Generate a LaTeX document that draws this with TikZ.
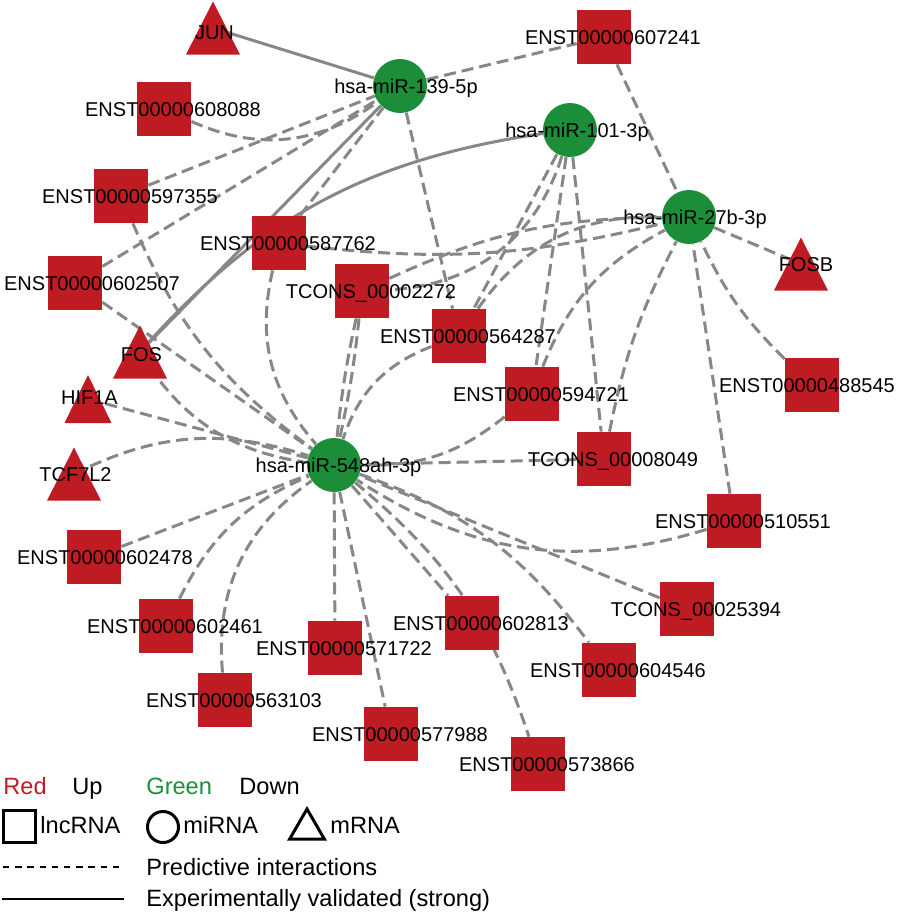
\documentclass[tikz,border=0pt]{standalone}
\usepackage{fontspec}
\setmainfont{Liberation Sans}
\definecolor{upred}{RGB}{190, 28, 34}
\definecolor{downgreen}{RGB}{28, 142, 58}
\definecolor{edgegray}{RGB}{135, 135, 135}
\usetikzlibrary{backgrounds, shapes.geometric}

\tikzset{
  lnc/.style={rectangle, fill=upred, minimum size=27pt, inner sep=0pt},
  mir/.style={circle, fill=downgreen, minimum size=27pt, inner sep=0pt},
  mrna/.style={rectangle, minimum width=27pt, minimum height=26.5pt, inner sep=0pt,
    path picture={\fill[upred] (path picture bounding box.south west)
      -- (path picture bounding box.south east) -- (path picture bounding box.north) -- cycle;}},
  nlbl/.style={font=\fontsize{10}{12}\selectfont, text height=7.2pt, text depth=0pt, inner sep=0pt},
  lnclbl/.style={nlbl, xshift=4.5pt},
  mirlbl/.style={nlbl, xshift=3pt},
  mrnalbl/.style={nlbl, xshift=0.75pt},
  pred/.style={draw=edgegray, line width=1.5pt, dash pattern=on 6pt off 3pt},
  valid/.style={draw=edgegray, line width=1.5pt},
  leg/.style={font=\fontsize{11.8}{14}\selectfont, text height=8.5pt, text depth=0pt, inner sep=0pt, anchor=west}
}

\begin{document}
\begin{tikzpicture}[x=0.5pt, y=-0.5pt]
  \useasboundingbox (0,0) rectangle (896,912);

  % miRNAs
  \node[mir, label={[mirlbl]center:hsa-miR-139-5p}] (m139) at (400,86) {};
  \node[mir, label={[mirlbl, xshift=0.5pt]center:hsa-miR-101-3p}] (m101) at (570,130) {};
  \node[mir, label={[mirlbl]center:hsa-miR-27b-3p}] (m27b) at (689,217) {};
  \node[mir, label={[mirlbl, xshift=-0.75pt]center:hsa-miR-548ah-3p}] (m548) at (334,465) {};

  % mRNAs
  \node[mrna, label={[mrnalbl, yshift=-2pt]center:JUN}] (jun) at (213,28) {};
  \node[mrna, label={[mrnalbl, xshift=1.75pt]center:FOSB}] (fosb) at (801,264) {};
  \node[mrna, label={[mrnalbl, yshift=-1pt]center:FOS}] (fos) at (140,352) {};
  \node[mrna, minimum width=23.5pt, minimum height=24pt, label={[mrnalbl, yshift=1pt]center:HIF1A}] (hif1a) at (88,399) {};
  \node[mrna, label={[mrnalbl]center:TCF7L2}] (tcf) at (74,474) {};

  % lncRNAs, upper part
  \node[lnc, label={[lnclbl]center:ENST00000607241}] (e607241) at (604,37) {};
  \node[lnc, label={[lnclbl]center:ENST00000608088}] (e608088) at (164,109) {};
  \node[lnc, label={[lnclbl]center:ENST00000597355}] (e597355) at (121,196) {};
  \node[lnc, label={[lnclbl]center:ENST00000587762}] (e587762) at (279,243) {};
  \node[lnc, label={[lnclbl, xshift=4pt]center:ENST00000602507}] (e602507) at (75,283) {};
  \node[lnc, label={[lnclbl]center:TCONS\_00002272}] (t2272) at (362,291) {};
  \node[lnc, label={[lnclbl]center:ENST00000564287}] (e564287) at (459,336) {};
  \node[lnc, label={[lnclbl, xshift=-7pt]center:ENST00000488545}] (e488545) at (812,385) {};
  \node[lnc, label={[lnclbl]center:ENST00000594721}] (e594721) at (532,394) {};
  \node[lnc, label={[lnclbl]center:TCONS\_00008049}] (t8049) at (604,459) {};
  \node[lnc, label={[lnclbl]center:ENST00000510551}] (e510551) at (734,521) {};

  % lncRNAs, lower part
  \node[lnc, label={[lnclbl, xshift=1pt]center:ENST00000602478}] (e602478) at (94,557) {};
  \node[lnc, label={[lnclbl]center:TCONS\_00025394}] (t25394) at (687,609) {};
  \node[lnc, label={[lnclbl]center:ENST00000602813}] (e602813) at (472,623) {};
  \node[lnc, label={[lnclbl]center:ENST00000602461}] (e602461) at (166,626) {};
  \node[lnc, label={[lnclbl]center:ENST00000571722}] (e571722) at (335,648) {};
  \node[lnc, label={[lnclbl]center:ENST00000604546}] (e604546) at (609,670) {};
  \node[lnc, label={[lnclbl]center:ENST00000563103}] (e563103) at (225,700) {};
  \node[lnc, label={[lnclbl]center:ENST00000577988}] (e577988) at (391,734) {};
  \node[lnc, label={[lnclbl]center:ENST00000573866}] (e573866) at (538,764) {};

  \begin{scope}[on background layer]
    % hsa-miR-139-5p
    \draw[valid] (jun.center) -- (m139);
    \draw[pred] (m139) -- (e607241);
    \draw[pred] (e608088) to[bend right=30] (m139);
    \draw[pred] (e597355) -- (m139);
    \draw[pred] (e602507) -- (m139);
    \draw[valid] (fos.center) -- (m139);
    \draw[pred] (e587762) -- (m139);
    \draw[pred] (m139) -- (e564287);

    % hsa-miR-101-3p
    \draw[valid] (m101) to[bend right=20] (fos.center);
    \draw[pred] (m101) to[bend left=35] (t2272);
    \draw[pred] (m101) -- (e564287);
    \draw[pred] (m101) -- (e594721);
    \draw[pred] (m101) -- (t8049);

    % hsa-miR-27b-3p
    \draw[pred] (e607241) -- (m27b);
    \draw[pred] (m27b) -- (fosb.center);
    \draw[pred] (e587762) to[bend right=10] (m27b);
    \draw[pred] (t2272) to[bend left=12] (m27b);
    \draw[pred] (e564287) to[bend left=28] (m27b);
    \draw[pred] (e594721) to[bend left=20] (m27b);
    \draw[pred] (t8049) to[bend left=8] (m27b);
    \draw[pred] (e488545) to[bend left=10] (m27b);
    \draw[pred] (e510551) -- (m27b);

    % hsa-miR-548ah-3p
    \draw[pred] (fos.center) to[bend right=25] (m548);
    \draw[pred] (hif1a.center) -- (m548);
    \draw[pred] (tcf.center) to[bend left=22] (m548);
    \draw[pred] (e602507) -- (m548);
    \draw[pred] (e597355) to[bend right=15] (m548);
    \draw[pred] (e587762) to[bend right=27] (m548);
    \draw[pred] (t2272) to[bend left=3] (m548);
    \draw[pred] (t2272) to[bend right=3] (m548);
    \draw[pred] (e564287) to[bend right=25] (m548);
    \draw[pred] (e594721) to[bend left=20] (m548);
    \draw[pred] (t8049) -- (m548);
    \draw[pred] (e510551) to[bend left=25] (m548);
    \draw[pred] (t25394) -- (m548);
    \draw[pred] (m548) to[bend left=17] (e604546);
    \draw[pred] (m548) to[bend left=16] (e573866);
    \draw[pred] (m548) -- (e602813);
    \draw[pred] (m548) -- (e577988);
    \draw[pred] (m548) -- (e571722);
    \draw[pred] (e563103) to[bend left=30] (m548);
    \draw[pred] (e602461) to[bend left=20] (m548);
    \draw[pred] (e602478) -- (m548);
  \end{scope}

  % Legend
  \node[leg, text=upred] (kred) at (3,786) {Red};
  \node[leg] (kup) at (72,786) {Up};
  \node[leg, text=downgreen] (kgreen) at (146,786) {Green};
  \node[leg] (kdown) at (239,786) {Down};
  \node[draw=black, line width=1.5pt, minimum size=16pt, inner sep=0pt] (klnc) at (19.5,826.5) {};
  \node[leg] (klnctxt) at (40,825) {lncRNA};
  \node[circle, draw=black, line width=1.5pt, minimum size=15.5pt, inner sep=0pt] (kmir) at (163,827) {};
  \node[leg] (kmirtxt) at (183,825) {miRNA};
  \node[regular polygon, regular polygon sides=3, draw=black, line width=1.5pt, minimum size=20pt, inner sep=0pt] (kmrna) at (307,829) {};
  \node[leg] (kmrnatxt) at (330,825) {mRNA};
  \coordinate (kpredA) at (3,867);
  \coordinate (kpredB) at (124,867);
  \draw[line width=0.85pt, dash pattern=on 3.2pt off 2.9pt] (kpredA) -- (kpredB);
  \node[leg] (kpred) at (146,867) {Predictive interactions};
  \coordinate (kvalidA) at (2,899);
  \coordinate (kvalidB) at (124,899);
  \draw[line width=1.35pt] (kvalidA) -- (kvalidB);
  \node[leg] (kvalid) at (146,898) {Experimentally validated (strong)};
\end{tikzpicture}
\end{document}
